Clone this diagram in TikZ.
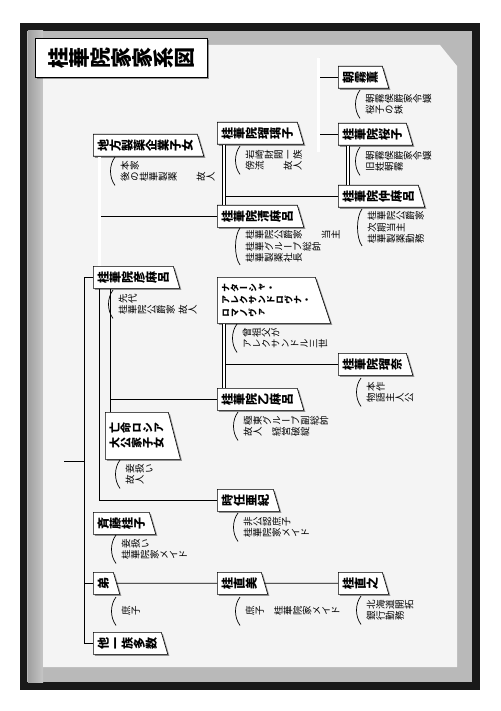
\documentclass[tikz,border=0pt]{standalone}
\usepackage{fontspec}
\usetikzlibrary{shapes.geometric,shadows}
\newfontfamily\jp[RawFeature=+vert]{Noto Sans CJK JP}
\def\Rend{\Rend}
\def\R#1{\Rloop#1\Rend}
\def\Rcell#1{\rotatebox[origin=c]{90}{\makebox[1em]{\rule[-.12em]{0pt}{1em}#1}}}
\def\Rloop#1{\ifx#1\Rend\else\Rcell{#1}\expandafter\Rloop\fi}
\tikzset{
  namebox/.style={trapezium, trapezium left angle=90, trapezium right angle=68,
    trapezium stretches body=true, draw, fill=white, line width=0.6pt,
    font=\jp\bfseries\fontsize{12}{14}\selectfont, align=left,
    inner xsep=4pt, inner ysep=2pt, minimum height=22pt, anchor=top left corner,
    drop shadow={shadow xshift=1.6pt, shadow yshift=-1.6pt, fill=black!80}},
  titlebox/.style={rectangle, draw, fill=white, line width=0.8pt, anchor=north west,
    minimum width=172pt, minimum height=39pt,
    font=\jp\bfseries\fontsize{21}{24}\selectfont,
    drop shadow={shadow xshift=1.8pt, shadow yshift=-1.8pt, fill=black!80}},
  desc/.style={anchor=north west, align=left, inner sep=0pt, minimum height=24pt,
    font=\jp\fontsize{9.5}{11.5}\selectfont},
  paren/.style={line width=0.7pt},
  conn/.style={line width=0.8pt},
  dbl/.style={double, double distance=2.2pt, line width=0.6pt},
}
\newcommand\paren[1]{\draw[paren] ([shift={(-5pt,2pt)}]#1.north west)
  .. controls +(-6pt,-8pt) and +(-6pt,8pt) .. ([shift={(-5pt,-2pt)}]#1.south west);}
\begin{document}
\begin{tikzpicture}[x=1pt,y=-1pt]
\useasboundingbox (0,0) rectangle (500,711);
\fill[white] (0,0) rectangle (500,711);
\fill[black!90] (20,23) rectangle (480,690);
\fill[gray!55] (27,31) rectangle (472,682);
\shade[left color=gray!75, right color=gray!45] (28,31) rectangle (43,682);
\fill[gray!9] (43,45) -- (440,45) -- (457,66) -- (457,667) -- (43,667) -- cycle;

\node[titlebox] (title) at (35,38) {\R{桂華院家家系図}};

% name boxes
\node[namebox] (chiho) at (93,134) {\R{地方製薬企業子女}};
\node[namebox] (ruriko) at (217,122) {\R{桂華院瑠璃子}};
\node[namebox] (kiyo) at (217,205) {\R{桂華院清麻呂}};
\node[namebox] (kaoru) at (338,66) {\R{朝霧薫}};
\node[namebox] (sakura) at (338,123) {\R{桂華院桜子}};
\node[namebox] (naka) at (338,185) {\R{桂華院仲麻呂}};
\node[namebox] (hiko) at (93,266) {\R{桂華院彦麻呂}};
\node[namebox, minimum height=46pt, font=\jp\bfseries\fontsize{9}{12.5}\selectfont] (nata) at (217,277) {\R{ナターシャ・}\\\R{アレクサンドロヴナ・}\\\R{ロマノヴァ}};
\node[namebox] (runa) at (338,353) {\R{桂華院瑠奈}};
\node[namebox] (otomaro) at (217,388) {\R{桂華院乙麻呂}};
\node[namebox, minimum height=47pt, font=\jp\bfseries\fontsize{11}{15}\selectfont] (bomei) at (105,412) {\R{亡命ロシア}\\\R{大公家子女}};
\node[namebox] (toki) at (217,489) {\R{時任亜紀}};
\node[namebox] (saito) at (93,512) {\R{斉藤桂子}};
\node[namebox] (otouto) at (93,572) {\R{弟}};
\node[namebox] (naomi) at (217,572) {\R{桂直美}};
\node[namebox] (naoyuki) at (338,572) {\R{桂直之}};
\node[namebox] (hoka) at (93,632) {\R{他一族多数}};

% descriptions
\node[desc] (dchiho) at (120,159) {\R{本家}\\\R{後の桂華製薬　　故人}};
\node[desc] (dhiko) at (118,292) {\R{先代}\\\R{桂華院公爵家}\hspace{3pt}\R{故人}};
\node[desc] (druriko) at (245,148) {\R{岩崎財閥一族}\\\R{傍流　　故人}};
\node[desc] (dkiyo) at (245,230) {\R{桂華院公爵家　　当主}\\\R{桂華グループ総帥}\\\R{桂華製薬社長}};
\node[desc] (dkaoru) at (365,92) {\R{朝霧侯爵家令嬢}\\\R{桜子の妹}};
\node[desc] (dsakura) at (365,149) {\R{朝霧侯爵家令嬢}\\\R{旧姓朝霧}};
\node[desc] (dnaka) at (367,211) {\R{桂華院公爵家}\\\R{次期当主}\\\R{桂華製薬勤務}};
\node[desc] (dnata) at (242,326) {\R{曾祖父が}\\\R{アレクサンドル三世}};
\node[desc] (druna) at (366,380) {\R{本作}\\\R{物語主人公}};
\node[desc] (dotomaro) at (243,414) {\R{極東グループ副総帥}\\\R{故人　経営破綻}};
\node[desc] (dbomei) at (125,462) {\R{妾扱い}\\\R{故人}};
\node[desc] (dtoki) at (243,515) {\R{非公認庶子}\\\R{桂華院家メイド}};
\node[desc] (dsaito) at (121,537) {\R{妾扱い}\\\R{桂華院家メイド}};
\node[desc] (dotouto) at (121,599) {\R{庶子}};
\node[desc] (dnaomi) at (245,599) {\R{庶子　桂華院家メイド}};
\node[desc] (dnaoyuki) at (366,598) {\R{北海道開拓}\\\R{銀行勤務}};
\foreach \d in {dchiho,dhiko,druriko,dkiyo,dkaoru,dsakura,dnaka,dnata,druna,dotomaro,dbomei,dtoki,dsaito,dotouto,dnaomi,dnaoyuki}{\paren{\d}}

% connectors
\coordinate (rootx) at (84,0);
\coordinate (tick) at (64,461);
\draw[conn] (hiko.west) -- (hiko.west -| rootx) -- (hoka.west -| rootx) -- (hoka.west);
\draw[conn] (otouto.west -| rootx) -- (otouto.west);
\draw[conn] (tick) -- (tick -| rootx);

\coordinate (ca) at ([xshift=6.5pt]chiho.bottom left corner);
\coordinate (ca2) at ([xshift=8pt]chiho.bottom left corner);
\draw[dbl] (ca) -- (ca |- hiko.north);
\draw[conn] (ca2 |- kiyo.west) -- (kiyo.west);

\coordinate (cb) at ([xshift=6pt]hiko.bottom left corner);
\draw[conn] (cb) -- (cb |- toki.west) -- (toki.west);
\coordinate (cc) at ([xshift=17pt]hiko.bottom left corner);
\draw[conn] (cc) -- (cc |- bomei.north);
\draw[conn] (cc |- otomaro.west) -- (otomaro.west);

\coordinate (cd) at ([xshift=7pt]ruriko.bottom left corner);
\coordinate (cd2) at ([xshift=8.5pt]ruriko.bottom left corner);
\draw[dbl] (cd) -- (cd |- kiyo.north);
\draw[conn] (cd2 |- naka.west) -- (naka.west);

\coordinate (se1) at (318.5,58);
\coordinate (se2) at (318.5,152);
\coordinate (se3) at (320,0);
\draw[dbl] (se1) -- (se2);
\draw[conn] (se3 |- kaoru.west) -- (kaoru.west);
\draw[conn] (se3 |- sakura.west) -- (sakura.west);

\coordinate (ce) at ([xshift=10pt]sakura.bottom left corner);
\draw[dbl] (ce) -- (ce |- naka.north);

\coordinate (cf) at ([xshift=7pt]nata.bottom left corner);
\coordinate (cf2) at ([xshift=8.5pt]nata.bottom left corner);
\draw[dbl] (cf) -- (cf |- otomaro.north);
\draw[conn] (cf2 |- runa.west) -- (runa.west);

\draw[conn] (otouto.east) -- (naomi.west);
\draw[conn] (naomi.east) -- (naoyuki.west);
\end{tikzpicture}
\end{document}
